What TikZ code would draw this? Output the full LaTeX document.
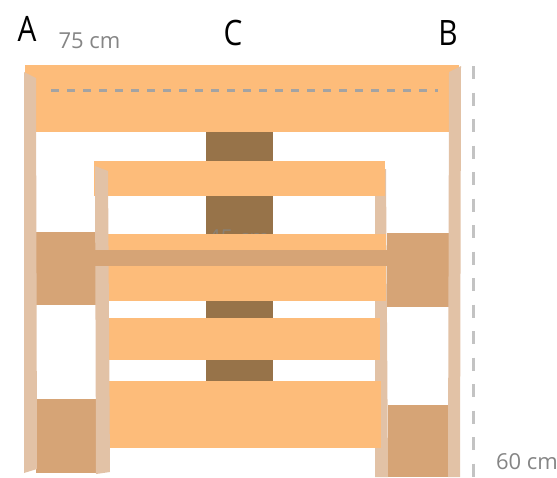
\documentclass[tikz,border=0pt]{standalone}
\usepackage{fontspec}
\setmainfont{Open Sans}
\usepackage{tikz}
\pgfdeclarelayer{bg}
\pgfsetlayers{bg,main}
\usetikzlibrary{positioning}
\definecolor{board}{HTML}{FDBC7A}
\definecolor{post}{HTML}{E2C2A6}
\definecolor{block}{HTML}{D6A476}
\definecolor{beam}{HTML}{977349}
\definecolor{dimline}{HTML}{A3A3A3}
\definecolor{dimtext}{HTML}{858585}
\tikzset{
  boardpart/.style={fill=board},
  postpart/.style={fill=post},
  blockpart/.style={fill=block},
  beampart/.style={fill=beam},
  letter/.style={font=\fontsize{35}{35}\selectfont, text=black, inner sep=0pt, xscale=.85},
  dimlabel/.style={font=\fontsize{22}{22}\selectfont, text=dimtext, inner sep=0pt}
}

\begin{document}
\begin{tikzpicture}[x=1pt,y=-1pt]
  \useasboundingbox (0,0) rectangle (557,477);
  \begin{pgfonlayer}{bg}
    % beam behind the boards
    \fill[beampart] (206,132) rectangle (273,381);
    % side blocks
    \fill[blockpart] (36,232) rectangle (96,305);
    \fill[blockpart] (36,399) rectangle (97,473);
    \fill[blockpart] (387,233) rectangle (449,307);
    \fill[blockpart] (388,405) rectangle (449,477);
  \end{pgfonlayer}
  \node[dimlabel, text=dimtext!70!beam] (depth) at (239,238) {45 cm};
  % right inner post lies behind the boards
  \fill[postpart] (375,169) -- (386,169) -- (388,477) -- (375,477) -- cycle;
  % boards
  \fill[boardpart] (25,65) -- (459,65) -- (459,132) -- (25,132) -- cycle;
  \fill[boardpart] (94,161) rectangle (385,196);
  \fill[boardpart] (100,234) rectangle (386,250);
  \fill[boardpart] (100,266) rectangle (386,301);
  \fill[boardpart] (100,318) rectangle (380,360);
  \fill[boardpart] (100,381) rectangle (381,448);
  % posts
  \fill[postpart] (24,72) -- (36,78) -- (37,469) -- (24,473) -- cycle;
  \fill[postpart] (95,166) -- (108,171) -- (110,472) -- (96,474) -- cycle;
  \fill[postpart] (449,72) -- (461,66) -- (460,477) -- (448,477) -- cycle;
  % cross strip
  \fill[blockpart] (95,250) rectangle (388,266);
  % dimension lines
  \draw[dimline, line width=3pt, dash pattern=on 8pt off 8pt] (51,90) -- (438,90);
  \draw[dimline!65, line width=3pt, dash pattern=on 13pt off 13.5pt] (473,66) -- (473,477);
  % labels
  \node[letter] (labelA) at (27,29) {A};
  \node[letter] (labelC) at (233,33) {C};
  \node[letter] (labelB) at (448,33) {B};
  \node[dimlabel] (width) at (89.5,41) {75 cm};
  \node[dimlabel] (height) at (527,462) {60 cm};
\end{tikzpicture}
\end{document}
